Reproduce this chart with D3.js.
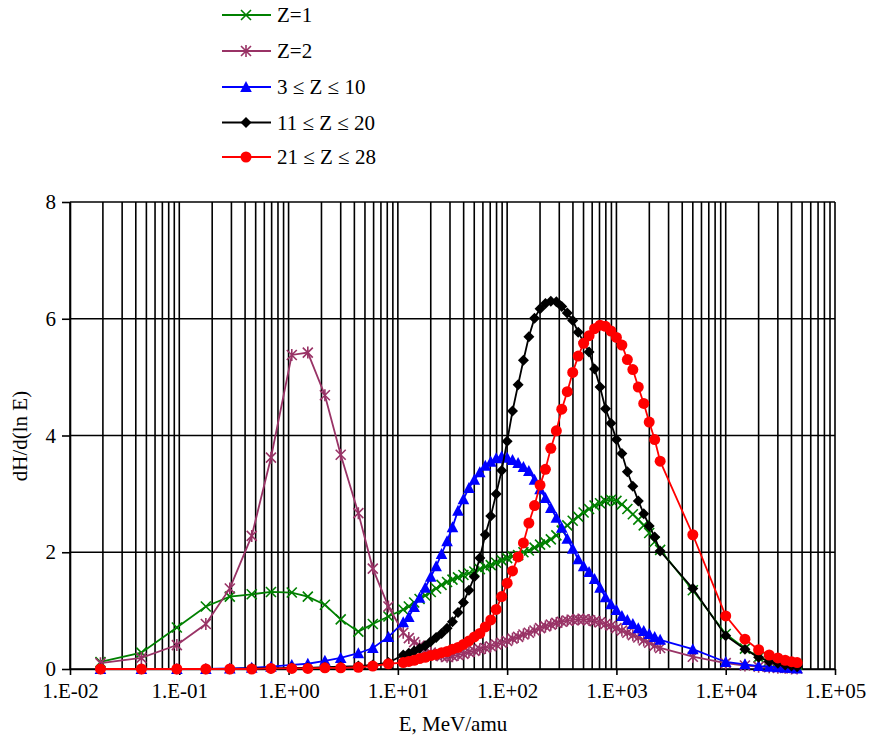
<!DOCTYPE html>
<html><head><meta charset="utf-8">
<script src="https://cdn.jsdelivr.net/npm/d3@7"></script>
<style>body{margin:0;background:#fff} text{font-family:"Liberation Serif","Times New Roman","DejaVu Serif",serif;fill:#000}</style>
</head><body><svg id="c" width="870" height="737"></svg>
<script>
// Energy grid, MeV/amu
const energy = [0.019,0.045,0.095,0.175,0.29,0.46,0.69,1.07,1.5,2.15,3.0,4.35,5.9,8.2,
 11.2,12.6,14.1,15.8,17.8,20,22.4,25.1,28.2,31.6,35.5,39.8,44.7,50.1,56.2,63.1,70.8,79.4,89.1,100,
 112,126,141,158,178,200,224,251,282,316,355,398,447,501,562,631,708,794,891,1000,
 1122,1259,1413,1585,1778,1995,2239,2512,
 5000,10000,15000,20000,25000,30000,35000,40000,45000];

const z1 = [0.12,0.28,0.71,1.07,1.24,1.28,1.32,1.31,1.24,1.10,0.85,0.64,0.77,0.90,
 1.02,1.07,1.14,1.20,1.26,1.32,1.38,1.44,1.49,1.53,1.57,1.61,1.64,1.67,1.71,1.75,1.78,1.82,1.86,1.90,
 1.93,1.95,2.00,2.03,2.08,2.13,2.17,2.22,2.29,2.37,2.46,2.54,2.61,2.68,2.74,2.80,2.84,2.88,2.90,2.88,
 2.82,2.74,2.65,2.56,2.46,2.33,2.18,2.04,
 1.35,0.60,0.35,0.20,0.14,0.11,0.09,0.08,0.07];

const z2 = [0.10,0.19,0.41,0.77,1.38,2.28,3.62,5.38,5.42,4.69,3.67,2.67,1.72,1.07,
 0.62,0.53,0.46,0.40,0.33,0.28,0.24,0.22,0.21,0.22,0.24,0.26,0.29,0.31,0.34,0.36,0.39,0.42,0.45,0.48,
 0.52,0.55,0.59,0.62,0.66,0.70,0.73,0.76,0.79,0.81,0.83,0.84,0.85,0.85,0.84,0.82,0.80,0.77,0.74,0.70,
 0.66,0.62,0.58,0.54,0.49,0.45,0.40,0.36,
 0.21,0.10,0.06,0.04,0.03,0.02,0.02,0.01,0.01];

const z3to10 = [0,0,0,0,0.01,0.02,0.04,0.07,0.09,0.14,0.19,0.27,0.36,0.55,
 0.80,0.89,1.06,1.22,1.39,1.58,1.76,1.97,2.19,2.43,2.71,2.91,3.10,3.24,3.37,3.48,3.55,3.61,3.64,3.62,
 3.58,3.53,3.46,3.39,3.24,3.08,2.93,2.76,2.59,2.42,2.23,2.06,1.88,1.76,1.66,1.54,1.39,1.23,1.11,1.01,
 0.91,0.84,0.77,0.70,0.65,0.60,0.55,0.50,
 0.34,0.12,0.08,0.05,0.04,0.03,0.02,0.02,0.01];

const z11to20 = [0,0,0,0,0,0.01,0.01,0.02,0.02,0.03,0.04,0.05,0.07,0.11,
 0.24,0.27,0.31,0.35,0.40,0.47,0.54,0.61,0.70,0.81,0.97,1.14,1.35,1.58,1.90,2.30,2.62,3.00,3.40,3.90,
 4.42,4.87,5.29,5.69,6.01,6.17,6.26,6.30,6.29,6.21,6.10,5.97,5.77,5.60,5.43,5.14,4.83,4.46,4.21,3.93,
 3.69,3.38,3.13,2.88,2.66,2.45,2.26,2.02,
 1.38,0.57,0.34,0.20,0.13,0.10,0.07,0.05,0.04];

const z21to28 = [0,0,0,0,0,0,0.01,0.01,0.01,0.02,0.02,0.03,0.05,0.09,
 0.11,0.13,0.15,0.18,0.20,0.23,0.25,0.28,0.30,0.34,0.37,0.42,0.48,0.55,0.61,0.72,0.84,1.02,1.24,1.47,
 1.68,1.92,2.16,2.50,2.80,3.15,3.42,3.78,4.08,4.45,4.75,5.08,5.36,5.58,5.71,5.83,5.89,5.87,5.79,5.68,
 5.55,5.30,5.13,4.83,4.55,4.23,3.93,3.56,
 2.30,0.91,0.51,0.33,0.24,0.19,0.15,0.125,0.11];

const seriesNames = ["Z=1","Z=2","3 \u2264 Z \u2264 10","11 \u2264 Z \u2264 20","21 \u2264 Z \u2264 28"];
const seriesValues = [z1, z2, z3to10, z11to20, z21to28];
const seriesColors = ["#008000","#993366","#0000FF","#000000","#FF0000"];
const seriesMarkers = ["x","star","triangle","diamond","circle"];

const xTickValues = [0.01,0.1,1,10,100,1000,10000,100000];
const xTickLabels = ["1.E-02","1.E-01","1.E+00","1.E+01","1.E+02","1.E+03","1.E+04","1.E+05"];
const yTickValues = [0,2,4,6,8];

const svg = d3.select("#c");
const L = 70, R = 835, T = 202, B = 669;
const x = d3.scaleLog().domain([0.01, 1e5]).range([L, R]);
const y = d3.scaleLinear().domain([0, 8]).range([B, T]);
const FONT = '"Liberation Serif","Times New Roman",serif';

// grid
const grid = svg.append("g");
grid.selectAll("line.v").data(x.ticks()).enter().append("line")
  .attr("x1", d => x(d)).attr("x2", d => x(d)).attr("y1", T).attr("y2", B)
  .attr("stroke", "#000").attr("stroke-width", 1.6);
grid.selectAll("line.h").data(yTickValues).enter().append("line")
  .attr("x1", L).attr("x2", R).attr("y1", d => y(d)).attr("y2", d => y(d))
  .attr("stroke", "#000").attr("stroke-width", 1.6);

// axes
const xAxis = d3.axisBottom(x).tickValues(xTickValues)
  .tickFormat((d, i) => xTickLabels[i]).tickSize(6).tickSizeOuter(0).tickPadding(8);
const gx = svg.append("g").attr("transform", `translate(0,${B})`).call(xAxis);
gx.attr("font-family", null).attr("font-size", null);
gx.select(".domain").attr("stroke", "#000").attr("stroke-width", 1.6);
gx.selectAll(".tick line").attr("stroke-width", 1.6);
gx.selectAll("text").style("font-size", "21px").style("font-family", FONT);

const yAxis = d3.axisLeft(y).tickValues(yTickValues).tickSize(8).tickSizeOuter(0).tickPadding(6);
const gy = svg.append("g").attr("transform", `translate(${L},0)`).call(yAxis);
gy.attr("font-family", null).attr("font-size", null);
gy.select(".domain").attr("stroke", "#000").attr("stroke-width", 1.6);
gy.selectAll(".tick line").attr("stroke-width", 1.6);
gy.selectAll("text").style("font-size", "21px").style("font-family", FONT);

svg.append("text").attr("x", 453).attr("y", 731).attr("text-anchor", "middle")
  .style("font-size", "21px").style("font-family", FONT).text("E, MeV/amu");
svg.append("text").attr("transform", "translate(27,436) rotate(-90)").attr("text-anchor", "middle")
  .style("font-size", "21px").style("font-family", FONT).text("dH/d(ln E)");

function drawMarker(g, type, color) {
  if (type === "x") {
    g.append("path").attr("d", "M-5,-5L5,5M-5,5L5,-5").attr("stroke", color).attr("stroke-width", 1.6).attr("fill", "none");
  } else if (type === "star") {
    g.append("path").attr("d", "M-5,-5L5,5M-5,5L5,-5M0,-6L0,6").attr("stroke", color).attr("stroke-width", 1.6).attr("fill", "none");
  } else if (type === "triangle") {
    g.append("path").attr("d", "M0,-6L5.8,5L-5.8,5Z").attr("fill", color);
  } else if (type === "diamond") {
    g.append("path").attr("d", "M0,-5.5L5.5,0L0,5.5L-5.5,0Z").attr("fill", color);
  } else {
    g.append("circle").attr("r", 5.5).attr("fill", color);
  }
}

const line = d3.line().x(d => x(d[0])).y(d => y(d[1]));
seriesValues.forEach((vals, si) => {
  const pts = energy.map((e, i) => [e, vals[i]]);
  const g = svg.append("g");
  g.append("path").datum(pts).attr("d", line).attr("fill", "none")
    .attr("stroke", seriesColors[si]).attr("stroke-width", 1.8);
  pts.forEach(p => {
    const m = g.append("g").attr("transform", `translate(${x(p[0])},${y(p[1])})`);
    drawMarker(m, seriesMarkers[si], seriesColors[si]);
  });
});

// legend
const legY = [15, 51, 87, 122.5, 157];
seriesNames.forEach((name, si) => {
  const g = svg.append("g").attr("transform", `translate(0,${legY[si]})`);
  g.append("line").attr("x1", 222).attr("x2", 271).attr("y1", 0).attr("y2", 0)
    .attr("stroke", seriesColors[si]).attr("stroke-width", 1.8);
  const m = g.append("g").attr("transform", "translate(246,0)");
  drawMarker(m, seriesMarkers[si], seriesColors[si]);
  g.append("text").attr("x", 277).attr("y", 7).style("font-size", "21px").style("font-family", FONT).text(name);
});
</script></body></html>
